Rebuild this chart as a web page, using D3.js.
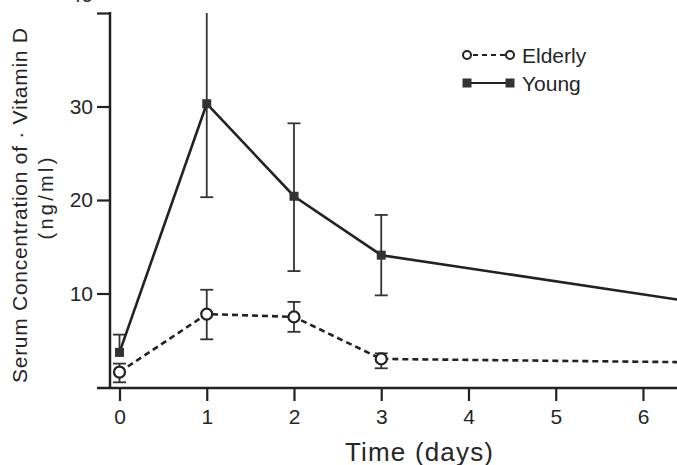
<!DOCTYPE html>
<html>
<head>
<meta charset="utf-8">
<script src="https://cdn.jsdelivr.net/npm/d3@7"></script>
<style>
  html, body { margin: 0; padding: 0; background: #fff; }
  svg { display: block; }
  text { font-family: "Liberation Sans", Arial, Helvetica, sans-serif; fill: #262626; }
</style>
</head>
<body>
<svg id="chart" width="677" height="465"></svg>
<script>
// ---- data ----
const days = [0, 1, 2, 3, 7];
const youngMean  = [3.7, 30.3, 20.4, 14.1, 8.5];
const youngUpper = [5.6, 41.0, 28.2, 18.4, null];
const youngLower = [3.7, 20.3, 12.4, 9.8, null];
const elderlyMean  = [1.6, 7.8, 7.5, 3.0, 2.6];
const elderlyUpper = [2.5, 10.4, 9.1, 3.6, null];
const elderlyLower = [0.5, 5.1, 5.9, 2.0, null];
const xTicks = [0, 1, 2, 3, 4, 5, 6];
const yTicks = [10, 20, 30, 40];
const seriesNames = ["Elderly", "Young"];

// ---- layout ----
const W = 677, H = 465;
const svg = d3.select("#chart");
const ink = "#222";

const x = d3.scaleLinear().domain([0, 6.39]).range([119.5, 677]);
const y = d3.scaleLinear().domain([0, 40]).range([387, 13]);
const yAxisX = x(0) - 9.5;
const xAxisY = y(0) + 1;

svg.append("clipPath").attr("id", "plotclip")
  .append("rect")
  .attr("x", yAxisX).attr("y", y(40))
  .attr("width", W - yAxisX).attr("height", xAxisY - y(40));

// ---- axes ----
const xAxis = d3.axisBottom(x).tickValues(xTicks).tickFormat(d3.format("d"))
  .tickSize(13).tickPadding(8).tickSizeOuter(0);
const gx = svg.append("g").attr("transform", `translate(0,${xAxisY})`).call(xAxis);
gx.select(".domain").remove();
gx.selectAll(".tick line").attr("stroke", ink).attr("stroke-width", 2.2);
gx.selectAll(".tick text").attr("font-size", 21);
gx.append("line").attr("x1", yAxisX - 13).attr("x2", W).attr("y1", 0).attr("y2", 0)
  .attr("stroke", ink).attr("stroke-width", 2.5);

const yAxis = d3.axisLeft(y).tickValues(yTicks).tickFormat(d3.format("d"))
  .tickSize(13).tickPadding(4).tickSizeOuter(0);
const gy = svg.append("g").attr("transform", `translate(${yAxisX},0)`).call(yAxis);
gy.select(".domain").remove();
gy.selectAll(".tick line").attr("stroke", ink).attr("stroke-width", 2.2);
gy.selectAll(".tick text").attr("font-size", 21);
gy.selectAll(".tick").filter(d => d === 40).select("text").attr("dy", "-0.55em");
gy.append("line").attr("x1", 0).attr("x2", 0).attr("y1", y(40) - 1).attr("y2", xAxisY)
  .attr("stroke", ink).attr("stroke-width", 2.5);

// ---- axis titles ----
svg.append("text")
  .attr("transform", `translate(27,205.5) rotate(-90)`)
  .attr("text-anchor", "middle").attr("font-size", 21)
  .attr("textLength", 355).attr("lengthAdjust", "spacing")
  .text("Serum  Concentration  of \u00b7 Vitamin  D");
svg.append("text")
  .attr("transform", `translate(53,198.5) rotate(-90)`)
  .attr("text-anchor", "middle").attr("font-size", 20)
  .attr("textLength", 82).attr("lengthAdjust", "spacing")
  .text("(ng/ml)");
svg.append("text")
  .attr("x", 419).attr("y", 461)
  .attr("text-anchor", "middle").attr("font-size", 26)
  .attr("textLength", 148).attr("lengthAdjust", "spacing")
  .text("Time (days)");

// ---- series ----
const plot = svg.append("g").attr("clip-path", "url(#plotclip)");
function rows(mean, up, lo) {
  return days.map((d, i) => ({ d, v: mean[i], up: up[i], lo: lo[i] }));
}
const young = rows(youngMean, youngUpper, youngLower);
const elderly = rows(elderlyMean, elderlyUpper, elderlyLower);

const line = d3.line().x(p => x(p.d)).y(p => y(p.v));

function errorBars(data) {
  const g = plot.append("g");
  const eb = data.filter(p => p.up != null);
  g.selectAll("line.v").data(eb).join("line")
    .attr("x1", p => x(p.d)).attr("x2", p => x(p.d))
    .attr("y1", p => y(p.up)).attr("y2", p => y(p.lo))
    .attr("stroke", "#333").attr("stroke-width", 1.8);
  g.selectAll("line.t").data(eb).join("line")
    .attr("x1", p => x(p.d) - 6.5).attr("x2", p => x(p.d) + 6.5)
    .attr("y1", p => y(p.up)).attr("y2", p => y(p.up))
    .attr("stroke", "#333").attr("stroke-width", 1.8);
  g.selectAll("line.b").data(eb.filter(p => p.lo !== p.v)).join("line")
    .attr("x1", p => x(p.d) - 6.5).attr("x2", p => x(p.d) + 6.5)
    .attr("y1", p => y(p.lo)).attr("y2", p => y(p.lo))
    .attr("stroke", "#333").attr("stroke-width", 1.8);
}
errorBars(young);
errorBars(elderly);

plot.append("path").datum(young).attr("d", line)
  .attr("fill", "none").attr("stroke", ink).attr("stroke-width", 2.6);
plot.append("path").datum(elderly).attr("d", line)
  .attr("fill", "none").attr("stroke", ink).attr("stroke-width", 2.6)
  .attr("stroke-dasharray", "6,4");

plot.selectAll("rect.ym").data(young.filter(p => p.up != null)).join("rect")
  .attr("x", p => x(p.d) - 4.5).attr("y", p => y(p.v) - 4.5)
  .attr("width", 9).attr("height", 9).attr("fill", "#333");
plot.selectAll("circle.em").data(elderly.filter(p => p.up != null)).join("circle")
  .attr("cx", p => x(p.d)).attr("cy", p => y(p.v)).attr("r", 5.5)
  .attr("fill", "#fff").attr("stroke", ink).attr("stroke-width", 2.2);

// ---- legend ----
const lg = svg.append("g");
const lx1 = 467, lx2 = 510, ly = [55, 83];
lg.append("line").attr("x1", lx1).attr("x2", lx2).attr("y1", ly[0]).attr("y2", ly[0])
  .attr("stroke", ink).attr("stroke-width", 2.2).attr("stroke-dasharray", "5,4")
  .attr("stroke-dashoffset", -6);
lg.selectAll("circle").data([lx1, lx2]).join("circle")
  .attr("cx", d => d).attr("cy", ly[0]).attr("r", 4)
  .attr("fill", "#fff").attr("stroke", ink).attr("stroke-width", 2);
lg.append("line").attr("x1", lx1).attr("x2", lx2).attr("y1", ly[1]).attr("y2", ly[1])
  .attr("stroke", ink).attr("stroke-width", 2.2);
lg.selectAll("rect").data([lx1, lx2]).join("rect")
  .attr("x", d => d - 4.5).attr("y", ly[1] - 4.5).attr("width", 9).attr("height", 9)
  .attr("fill", "#333");
lg.selectAll("text").data(seriesNames).join("text")
  .attr("x", 522).attr("y", (d, i) => ly[i] + 7.5)
  .attr("font-size", 21).text(d => d);
</script>
</body>
</html>
